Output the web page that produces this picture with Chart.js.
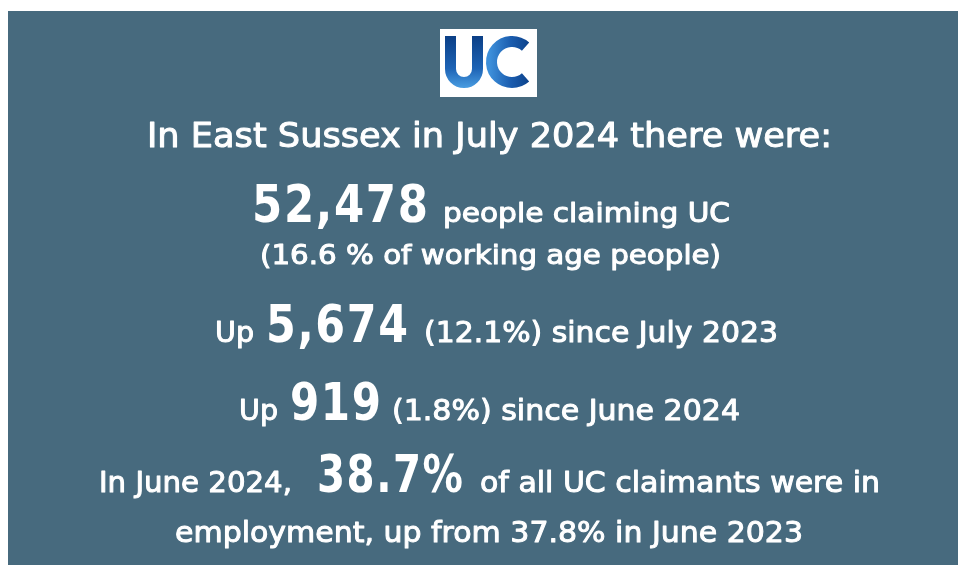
<!DOCTYPE html>
<html lang="en">
<head>
<meta charset="utf-8">
<title>Universal Credit claimants – East Sussex, July 2024</title>
<script src="https://cdn.jsdelivr.net/npm/chart.js@4.4.1/dist/chart.umd.min.js"></script>
<style>
    html, body { margin: 0; padding: 0; background: #ffffff; }
    #uc-panel { display: block; }
</style>
</head>
<body>
<canvas id="uc-panel" width="958" height="565"></canvas>
<script>
// infographic text, one array per line (big figure kept as its own part)
const headline = ['In East Sussex in July 2024 there were:'];
const claimTotal = ['52,478', 'people claiming UC'];
const claimShare = ['(16.6 % of working age people)'];
const annualChange = ['Up', '5,674', '(12.1%) since July 2023'];
const monthlyChange = ['Up', '919', '(1.8%) since June 2024'];
const employedLine1 = ['In June 2024,', '38.7%', 'of all UC claimants were in'];
const employedLine2 = ['employment, up from 37.8% in June 2023'];

// which part of each line is the big figure (-1 = none)
const figureIndex = [-1, 0, -1, 1, 1, 1, -1];

// layout: baseline, font size of normal text, [left, right] of every part
const lineLayout = [
    { y: 147, size: 34, spans: [[147, 832]] },
    { y: 222, size: 26, spans: [[252, 428], [443, 730]] },
    { y: 264, size: 26, spans: [[260, 721]] },
    { y: 342, size: 28, spans: [[215, 254], [266, 408], [424, 778]] },
    { y: 420, size: 28, spans: [[239, 278], [290, 381], [392, 740]] },
    { y: 492, size: 29, spans: [[99, 292], [317, 463], [480, 880]] },
    { y: 542, size: 29, spans: [[175, 803]] }
];
const figureSize = 52;
const figureSpacing = 2;
const panelColor = '#476a7e';
const fontFamily = '"DejaVu Sans", Verdana, sans-serif';

const allLines = [headline, claimTotal, claimShare, annualChange, monthlyChange, employedLine1, employedLine2];

function isFigure(lineNo, partNo) {
    return figureIndex[lineNo] === partNo;
}

function setPartFont(ctx, lineNo, partNo) {
    if (isFigure(lineNo, partNo)) {
        ctx.font = 'bold ' + figureSize + 'px ' + fontFamily;
        ctx.letterSpacing = figureSpacing + 'px';
    } else {
        ctx.font = 'normal ' + lineLayout[lineNo].size + 'px ' + fontFamily;
        ctx.letterSpacing = '0px';
    }
}

function drawLogo(ctx) {
    ctx.save();
    ctx.fillStyle = '#ffffff';
    ctx.fillRect(440, 29, 97, 68);

    const grad = ctx.createLinearGradient(0, 36, 0, 90);
    grad.addColorStop(0, '#0b3f86');
    grad.addColorStop(0.6, '#1d63b5');
    grad.addColorStop(1, '#4ea3e6');
    ctx.strokeStyle = grad;
    ctx.lineWidth = 11;
    ctx.lineCap = 'butt';

    // U
    ctx.beginPath();
    ctx.moveTo(450.5, 36);
    ctx.lineTo(450.5, 69);
    ctx.arc(464, 69, 13.5, Math.PI, 0, true);
    ctx.lineTo(477.5, 36);
    ctx.stroke();

    // C
    const cGrad = ctx.createLinearGradient(490, 0, 532, 0);
    cGrad.addColorStop(0, '#3d8fda');
    cGrad.addColorStop(0.5, '#1a5cae');
    cGrad.addColorStop(1, '#0b3f86');
    ctx.strokeStyle = cGrad;
    ctx.beginPath();
    ctx.arc(512, 62, 20.5, -Math.PI * 0.27, Math.PI * 0.27, true);
    ctx.stroke();
    ctx.restore();
}

// each part is squeezed into its own span, keeping the font height
function drawTextLine(ctx, lineNo) {
    const parts = allLines[lineNo];
    const lay = lineLayout[lineNo];

    parts.forEach((p, i) => {
        const span = lay.spans[i];
        setPartFont(ctx, lineNo, i);
        let w = ctx.measureText(p).width;
        if (isFigure(lineNo, i)) {
            w -= figureSpacing; // no gap after the last glyph
        }
        const sx = (span[1] - span[0]) / w;

        ctx.save();
        ctx.translate(span[0], lay.y);
        ctx.scale(sx, 1);
        ctx.fillText(p, 0, 0);
        if (!isFigure(lineNo, i)) {
            ctx.strokeText(p, 0, 0);
        }
        ctx.restore();
    });
}

const infographicPlugin = {
    id: 'ucInfographic',
    afterDraw(chart) {
        const ctx = chart.ctx;
        ctx.save();
        ctx.fillStyle = panelColor;
        ctx.fillRect(8, 11, chart.width - 8, chart.height - 11);

        drawLogo(ctx);

        ctx.fillStyle = '#ffffff';
        ctx.strokeStyle = '#ffffff';
        ctx.lineWidth = 1;
        ctx.lineJoin = 'round';
        ctx.textBaseline = 'alphabetic';
        ctx.textAlign = 'left';
        for (let i = 0; i < allLines.length; i++) {
            drawTextLine(ctx, i);
        }
        ctx.restore();
    }
};

new Chart(document.getElementById('uc-panel'), {
    type: 'bar',
    data: { labels: [], datasets: [] },
    options: {
        responsive: false,
        animation: false,
        devicePixelRatio: 1,
        plugins: {
            legend: { display: false },
            tooltip: { enabled: false }
        },
        scales: {
            x: { display: false },
            y: { display: false }
        }
    },
    plugins: [infographicPlugin]
});
</script>
</body>
</html>
